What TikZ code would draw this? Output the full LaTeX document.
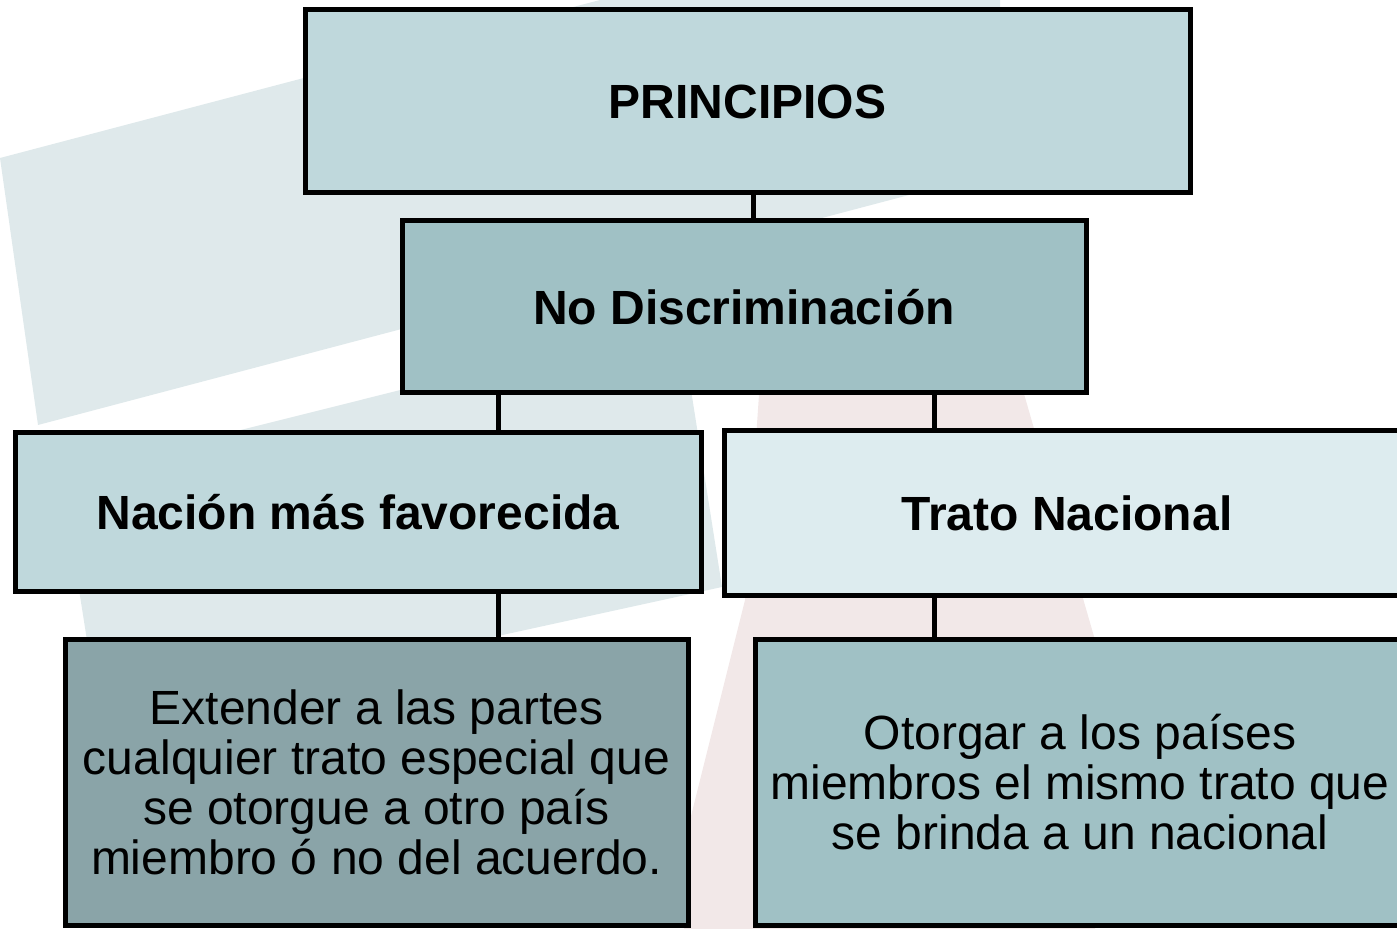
\documentclass[tikz,border=0pt]{standalone}
\usepackage{fontspec}
\setmainfont{Liberation Sans}
\usetikzlibrary{positioning}

\definecolor{bandblue}{HTML}{DFE9EB}
\definecolor{bandpink}{HTML}{F2E8E8}
\definecolor{palebox}{HTML}{BFD8DC}
\definecolor{midbox}{HTML}{A0C1C5}
\definecolor{lightbox}{HTML}{DDECEF}
\definecolor{darkbox}{HTML}{8AA4A8}

\begin{document}
\begin{tikzpicture}[x=0.5pt,y=-0.5pt,
						box/.style={draw=black,line width=2.5pt,inner sep=0pt,
						align=center,font=\fontsize{24}{25}\selectfont},
						headbox/.style={box,font=\fontsize{24}{25}\selectfont\bfseries},
						link/.style={draw=black,line width=2.5pt}]

		\useasboundingbox (0,0) rectangle (1397,929);
		\clip (0,0) rectangle (1397,929);

		% faint background bands
		\fill[bandblue] (0,158) -- (600,0) -- (1000,0) -- (1000,171) -- (38,425) -- cycle;
		\fill[bandblue] (61,475) -- (680,320) -- (722,587) -- (100,723) -- cycle;
		\fill[bandpink] (760,380) -- (1020,380) -- (1095,640) -- (1095,929)
			-- (684,929) -- (690,820) -- (745,600) -- cycle;

		\node [headbox,fill=palebox,minimum width=442.5pt,minimum height=91.5pt]
			(prin) at (747.5,101.5) {PRINCIPIOS};
		\node [headbox,fill=midbox,minimum width=342pt,minimum height=86pt]
			(nodisc) at (744,307) {No Discriminación};
		\node [headbox,fill=palebox,minimum width=343pt,minimum height=79.5pt]
			(nac) at (358,512.5) {Nación más favorecida};
		\node [headbox,fill=lightbox,minimum width=343pt,minimum height=82.5pt]
			(trato) at (1067,513.5) {Trato Nacional};
		\node [box,fill=darkbox,minimum width=311.5pt,minimum height=142.5pt]
			(ext) at (376.5,782.5) {Extender a las partes\\cualquier trato especial que\\
			se otorgue a otro país\\miembro ó no del acuerdo.};
		\node [box,fill=midbox,minimum width=325pt,minimum height=142.5pt]
			(oto) at (1080,782.5) {Otorgar a los países\\miembros el mismo trato que\\
			se brinda a un nacional};

		\coordinate (mx) at (753,0);
		\coordinate (lx) at (498,0);
		\coordinate (rx) at (934,0);

		\draw [link] ([yshift=2pt]prin.south -| mx) -- (nodisc.north -| mx);
		\draw [link] (nodisc.south -| lx) -- (nac.north -| lx);
		\draw [link] (nodisc.south -| rx) -- (trato.north -| rx);
		\draw [link] (nac.south -| lx) -- (ext.north -| lx);
		\draw [link] ([yshift=2pt]trato.south -| rx) -- (oto.north -| rx);

	\end{tikzpicture}
\end{document}
